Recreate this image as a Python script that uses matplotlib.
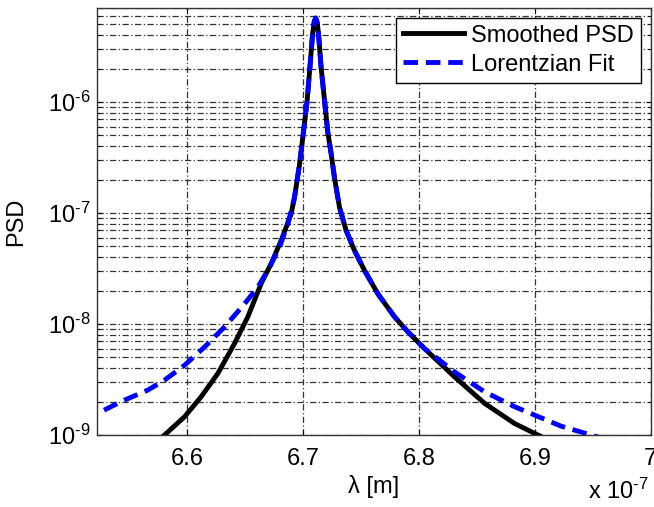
import numpy as np
import matplotlib
matplotlib.use("Agg")
import matplotlib.pyplot as plt
from matplotlib.ticker import LogLocator, FixedLocator, NullFormatter

plt.rcParams['font.family'] = ['Liberation Sans', 'DejaVu Sans']
plt.rcParams['mathtext.fontset'] = 'custom'
plt.rcParams['mathtext.rm'] = 'Liberation Sans'
plt.rcParams['mathtext.default'] = 'regular'

# wavelength in units of 1e-7 m
lam_smooth = [6.575, 6.5802, 6.5975, 6.6118, 6.6262, 6.6406, 6.6521, 6.6636, 6.6722,
              6.6809, 6.6895, 6.6924, 6.6968, 6.7000, 6.7033, 6.7057, 6.708, 6.7095,
              6.7107, 6.712, 6.7132, 6.7154, 6.7184, 6.7212, 6.7241, 6.727, 6.7313,
              6.737, 6.7442, 6.7529, 6.7644, 6.7788, 6.7903, 6.8047, 6.8306, 6.8565,
              6.8824, 6.9026, 6.91]
psd_smooth = [0.9e-9, 1.0e-9, 1.46e-9, 2.21e-9, 3.58e-9, 6.66e-9, 1.16e-8, 2.31e-8, 3.49e-8,
              5.65e-8, 9.8e-8, 1.38e-7, 2.76e-7, 5.2e-7, 1.02e-6, 2.04e-6, 4.06e-6, 5.3e-6,
              5.7e-6, 5.2e-6, 4.06e-6, 2.04e-6, 1.02e-6, 5.3e-7, 3.4e-7, 2.05e-7, 1.12e-7,
              6.95e-8, 4.59e-8, 3.03e-8, 1.87e-8, 1.16e-8, 8.5e-9, 6.0e-9, 3.34e-9, 1.93e-9,
              1.27e-9, 1.0e-9, 0.92e-9]

lam_fit = [6.51, 6.52, 6.5427, 6.5658, 6.5802, 6.5975, 6.6147, 6.632, 6.6493, 6.6608,
           6.6709, 6.6795, 6.6867, 6.6924, 6.6968, 6.7000, 6.7033, 6.7057, 6.708, 6.7095,
           6.7107, 6.712, 6.7132, 6.7154, 6.7184, 6.7212, 6.7241, 6.727, 6.7313, 6.737,
           6.7442, 6.7529, 6.7644, 6.7788, 6.7903, 6.8047, 6.8306, 6.8565, 6.8824, 6.9227,
           6.9486, 6.96]
psd_fit = [1.42e-9, 1.52e-9, 2.0e-9, 2.54e-9, 3.12e-9, 4.25e-9, 6.2e-9, 9.4e-9, 1.52e-8, 2.15e-8,
           3.25e-8, 4.92e-8, 7.97e-8, 1.38e-7, 2.76e-7, 5.2e-7, 1.02e-6, 2.04e-6, 4.06e-6, 5.3e-6,
           5.7e-6, 5.2e-6, 4.06e-6, 2.04e-6, 1.02e-6, 5.3e-7, 3.4e-7, 2.05e-7, 1.12e-7, 6.95e-8,
           4.59e-8, 3.03e-8, 1.87e-8, 1.16e-8, 8.5e-9, 6.0e-9, 3.7e-9, 2.45e-9, 1.8e-9, 1.2e-9,
           1.0e-9, 0.92e-9]

xticks = [6.6, 6.7, 6.8, 6.9, 7.0]
xticklabels = ['6.6', '6.7', '6.8', '6.9', '7']
yticks = [1e-9, 1e-8, 1e-7, 1e-6]
yticklabels = [r'10$^{\text{-9}}$', r'10$^{\text{-8}}$', r'10$^{\text{-7}}$', r'10$^{\text{-6}}$']

fig = plt.figure(figsize=(6.54, 5.07), dpi=100)
ax = fig.add_axes([0.148, 0.142, 0.847, 0.842])

ax.plot(lam_smooth, psd_smooth, color='black', lw=3.5, label='Smoothed PSD')
ax.plot(lam_fit, psd_fit, color='blue', lw=3.5, ls=(0, (3, 1.6)), label='Lorentzian Fit')

ax.set_yscale('log')
ax.set_xlim(6.5217, 7.0)
ax.set_ylim(1e-9, 7e-6)

ax.xaxis.set_major_locator(FixedLocator(xticks))
ax.set_xticklabels(xticklabels)
ax.set_yticks(yticks)
ax.set_yticklabels(yticklabels)
ax.yaxis.set_minor_locator(LogLocator(base=10, subs=np.arange(2, 10), numticks=20))
ax.yaxis.set_minor_formatter(NullFormatter())

grid_style = dict(color='#333333', lw=0.9, ls=(0, (5, 2, 1, 2)))
ax.grid(True, which='major', axis='both', **grid_style)
ax.grid(True, which='minor', axis='y', **grid_style)
ax.set_axisbelow(True)

ax.tick_params(which='both', direction='in', top=True, right=True, labelsize=17)
ax.tick_params(axis='x', pad=9)
ax.tick_params(axis='y', pad=4.5)
for s in ax.spines.values():
    s.set_linewidth(1.0)
    s.set_color('#333333')

ax.set_xlabel('λ [m]', fontsize=17, labelpad=4)
ax.set_ylabel('PSD', fontsize=17)
ax.yaxis.set_label_coords(-0.125, 0.5)
fig.text(0.945, 0.006, r'x 10$^{\text{-7}}$', fontsize=17, ha='center', va='bottom')

leg = ax.legend(loc='upper right', fontsize=17, handlelength=2.6, frameon=True,
                fancybox=False, borderpad=0.3, labelspacing=0.3, handletextpad=0.3,
                borderaxespad=0.4)
leg.get_frame().set_edgecolor('black')
leg.get_frame().set_linewidth(1.0)
leg.get_frame().set_alpha(1)

fig.savefig('out.png', dpi=100)
